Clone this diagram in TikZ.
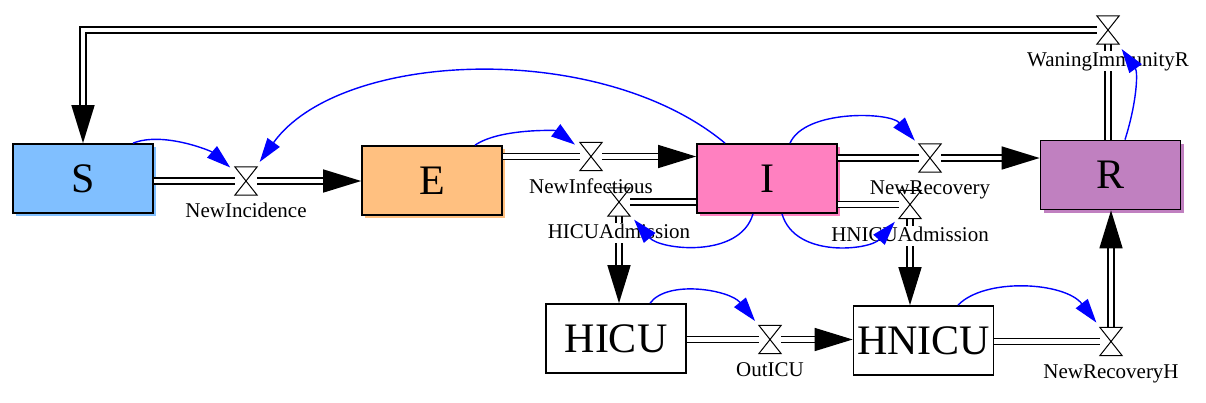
\documentclass[tikz,border=0pt]{standalone}
\usepackage{fontspec}
\setmainfont{Liberation Serif}
\usetikzlibrary{positioning, arrows.meta, shadows}
\definecolor{sblue}{HTML}{80BFFF}
\definecolor{eorange}{HTML}{FFC080}
\definecolor{ipink}{HTML}{FF80C0}
\definecolor{rpurple}{HTML}{C080C0}
\tikzset{
  stock/.style={rectangle, draw=black, fill=#1, line width=1.7pt,
    minimum width=140pt, minimum height=69pt, inner sep=0pt,
    general shadow={shadow xshift=3pt, shadow yshift=-3pt, fill=#1, draw=none},
    font=\fontsize{42}{42}\selectfont},
  stock/.default=white,
  valve/.style={rectangle, draw=none, minimum width=22pt, minimum height=28pt,
    inner sep=0pt},
  hourglass/.style={draw=black, line width=1pt},
  pipe/.style={draw=black, line width=1.5pt, double=white, double distance=4.5pt},
  flow/.style={pipe, -{Triangle[length=38pt, width=23pt]}},
  link/.style={draw=blue, line width=1.4pt, shorten >=6pt,
    -{Triangle[length=24pt, width=15pt]}},
  flowlabel/.style={fill=white, inner sep=0.5pt, text height=15pt,
    text depth=4pt, font=\fontsize{21}{24}\selectfont},
}

\begin{document}
\begin{tikzpicture}[x=1pt, y=-1pt]
  \useasboundingbox (0,0) rectangle (1206,402);

  % stocks
  \node[stock=sblue]   (S)     at (83,178.5)    {S};
  \node[stock=eorange] (E)     at (432,180.5)   {E};
  \node[stock=ipink]   (I)     at (767,178.5)   {I};
  \node[stock=rpurple] (R)     at (1110.5,175)  {R};
  \node[stock]         (HICU)  at (616,338.5)   {HICU};
  \node[stock]         (HNICU) at (923.5,340.5) {HNICU};

  % valves
  \node[valve] (vInc)   at (246,181)    {};
  \node[valve] (vInf)   at (591,156.5)  {};
  \node[valve] (vRec)   at (930,158)    {};
  \node[valve] (vHICU)  at (619,202)    {};
  \node[valve] (vHNICU) at (910,204.5)  {};
  \node[valve] (vOut)   at (770,339.5)  {};
  \node[valve] (vRecH)  at (1111,341.5) {};
  \node[valve] (vWan)   at (1108,30)    {};

  % flows
  \draw[pipe] (S.east |- vInc) -- (vInc);
  \draw[flow] (vInc) -- (E.west |- vInc);
  \draw[pipe] (E.east |- vInf) -- (vInf);
  \draw[flow] (vInf) -- (I.west |- vInf);
  \draw[pipe] (I.east |- vRec) -- (vRec);
  \draw[flow] (vRec) -- (R.west |- vRec);
  \draw[pipe] (I.west |- vHICU) -- (vHICU);
  \draw[flow] (vHICU) -- (vHICU |- HICU.north);
  \draw[pipe] (I.east |- vHNICU) -- (vHNICU);
  \draw[flow] (vHNICU) -- (vHNICU |- HNICU.north);
  \draw[pipe] (HICU.east |- vOut) -- (vOut);
  \draw[flow] (vOut) -- (HNICU.west |- vOut);
  \draw[pipe] (HNICU.east |- vRecH) -- (vRecH);
  \draw[flow] (vRecH) -- (vRecH |- R.south);
  \draw[pipe] (vWan |- R.north) -- (vWan);
  \draw[flow] (vWan) -- (S.north |- vWan) -- (S.north);

  % flow names
  \node[flowlabel, below=7pt of vInc]   (lInc)   {NewIncidence};
  \node[flowlabel, below=7pt of vInf]   (lInf)   {NewInfectious};
  \node[flowlabel, below=7pt of vRec]   (lRec)   {NewRecovery};
  \node[flowlabel, below=7pt of vHICU]  (lHICU)  {HICUAdmission};
  \node[flowlabel, below=7pt of vHNICU] (lHNICU) {HNICUAdmission};
  \node[flowlabel, below=7pt of vOut]   (lOut)   {OutICU};
  \node[flowlabel, below=7pt of vRecH]  (lRecH)  {NewRecoveryH};
  \node[flowlabel, below=7pt of vWan]   (lWan)   {WaningImmunityR};

  \foreach \v in {vInc,vInf,vRec,vHICU,vHNICU,vOut,vRecH,vWan}
    \draw[hourglass] (\v.north west) -- (\v.north east)
      -- (\v.south west) -- (\v.south east) -- cycle;

  % information links
  \draw[link] ([xshift=50pt]S.north)
    .. controls +(30,-12) and +(-35,-30) .. (vInc);
  \draw[link] ([xshift=-42pt]I.north)
    .. controls +(-125,-104) and +(94,-131) .. (vInc);
  \draw[link] ([xshift=43pt]E.north)
    .. controls +(25,-17) and +(-35,-26) .. (vInf);
  \draw[link] ([xshift=23pt]I.north)
    .. controls +(15,-34) and +(-40,-46) .. (vRec);
  \draw[link] ([xshift=-14pt]I.south)
    .. controls +(-13,45) and +(41,48) .. (vHICU);
  \draw[link] ([xshift=15pt]I.south)
    .. controls +(13,45) and +(-40,45.5) .. (vHNICU);
  \draw[link] ([xshift=34pt]HICU.north)
    .. controls +(18,-24) and +(-40,-49.5) .. (vOut);
  \draw[link] ([xshift=34.5pt]HNICU.north)
    .. controls +(27,-28) and +(-46,-59.5) .. (vRecH);
  \draw[link] ([xshift=14.5pt]R.north)
    .. controls +(12,-38) and +(30,42) .. (vWan);

\end{tikzpicture}
\end{document}
